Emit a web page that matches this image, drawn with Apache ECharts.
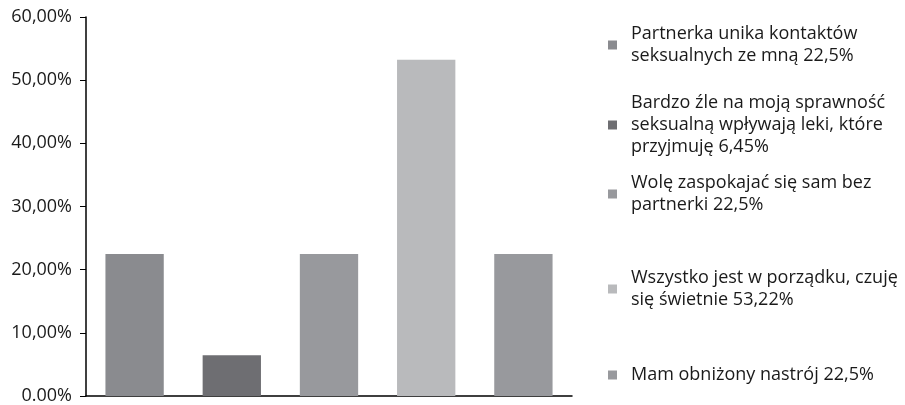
<!DOCTYPE html>
<html>
<head>
<meta charset="utf-8">
<script src="https://cdn.jsdelivr.net/npm/echarts@6/dist/echarts.min.js"></script>
<style>
  html, body { margin: 0; padding: 0; background: #fff; }
  #main { width: 905px; height: 405px; }
</style>
</head>
<body>
<div id="main"></div>
<script>
// answers (legend text) and their share in percent
const categories = [
  'Partnerka unika kontaktów\nseksualnych ze mną 22,5%',
  'Bardzo źle na moją sprawność\nseksualną wpływają leki, które\nprzyjmuję 6,45%',
  'Wolę zaspokajać się sam bez\npartnerki 22,5%',
  'Wszystko jest w porządku, czuję\nsię świetnie 53,22%',
  'Mam obniżony nastrój 22,5%'
];
const values = [22.5, 6.45, 22.5, 53.22, 22.5];
const barColors = ['#8a8b8f', '#6e6e72', '#98999d', '#b9babc', '#98999d'];
const tickLabels = ['0.00%', '10,00%', '20,00%', '30,00%', '40,00%', '50,00%', '60,00%'];

// top of each legend block (px)
const legendTops = [18, 87, 167, 262, 359];

const FONT = '"Open Sans", sans-serif';

let myChart = echarts.init(document.getElementById('main'));

const series = categories.map((name, i) => ({
  name: name,
  type: 'bar',
  stack: 'all',
  barWidth: '60%',
  itemStyle: { color: barColors[i] },
  data: values.map((v, j) => (j === i ? v : '-'))
}));

const legends = categories.map((name, i) => ({
  orient: 'vertical',
  left: 603,
  top: legendTops[i],
  itemWidth: 9,
  itemHeight: 9,
  itemGap: 0,
  selectedMode: false,
  icon: 'rect',
  textStyle: {
    fontFamily: FONT,
    fontSize: 18,
    lineHeight: 22,
    color: '#1a1a1a',
    padding: [0, 0, 0, 9]
  },
  data: [name]
}));

myChart.setOption({
  animation: false,
  grid: { left: 86, right: 333, top: 17, bottom: 8, containLabel: false },
  legend: legends,
  xAxis: {
    type: 'category',
    data: categories,
    axisLine: { lineStyle: { color: '#000', width: 1.5 } },
    axisTick: { show: false },
    axisLabel: { show: false }
  },
  yAxis: {
    type: 'value',
    min: 0,
    max: 60,
    interval: 10,
    splitLine: { show: false },
    axisLine: { show: true, lineStyle: { color: '#000', width: 1.5 } },
    axisTick: { show: true, length: 6, lineStyle: { color: '#000' } },
    axisLabel: {
      margin: 14,
      fontFamily: FONT,
      fontSize: 18,
      color: '#1a1a1a',
      formatter: (v) => tickLabels[Math.round(v / 10)]
    }
  },
  series: series
});
</script>
</body>
</html>
